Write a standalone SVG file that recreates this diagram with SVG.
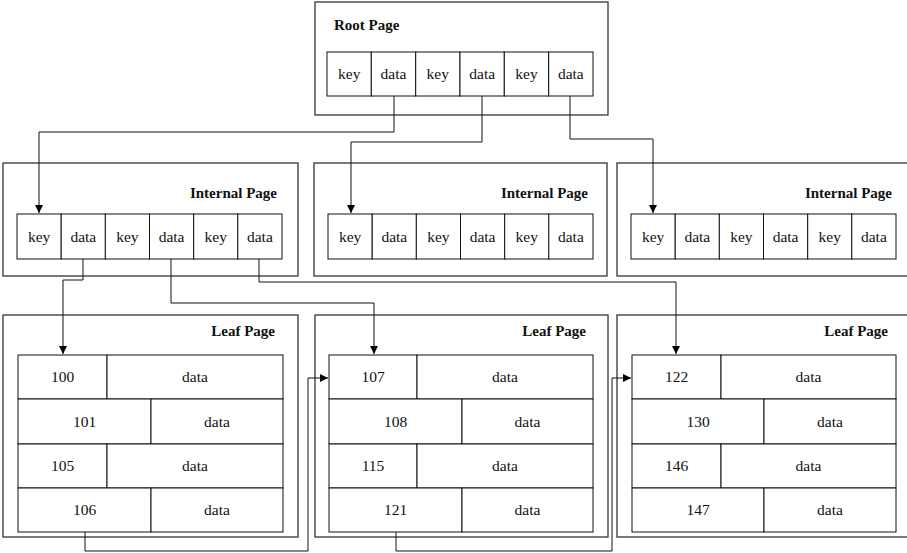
<svg xmlns="http://www.w3.org/2000/svg" width="907" height="553" viewBox="0 0 907 553" font-family="Liberation Serif, serif">
<defs>
<marker id="arr" markerUnits="userSpaceOnUse" markerWidth="9" markerHeight="8" refX="8" refY="4" orient="auto">
<path d="M0,0 L8,4 L0,8 Z" fill="#000"/>
</marker>
<style>
.page{fill:#fff;stroke:#444;stroke-width:1.4}
.cell{fill:#fff;stroke:#111;stroke-width:1}
.t{font-size:15.5px;fill:#111;text-anchor:middle}
.title{font-size:15px;font-weight:bold;fill:#111}
.end{text-anchor:end}
.conn{fill:none;stroke:#111;stroke-width:1}
</style>
</defs>
<rect width="907" height="553" fill="#fff"/>

<g id="root" font-family="Liberation Serif, serif">
<rect class="page" x="315" y="2" width="293" height="113"/>
<text class="title" x="334" y="30">Root Page</text>
<rect class="cell" x="327" y="52" width="44.3" height="44"/>
<rect class="cell" x="371.3" y="52" width="44.3" height="44"/>
<rect class="cell" x="415.7" y="52" width="44.3" height="44"/>
<rect class="cell" x="460" y="52" width="44.3" height="44"/>
<rect class="cell" x="504.3" y="52" width="44.3" height="44"/>
<rect class="cell" x="548.7" y="52" width="44.3" height="44"/>
<text class="t" x="349.2" y="79">key</text>
<text class="t" x="393.5" y="79">data</text>
<text class="t" x="437.8" y="79">key</text>
<text class="t" x="482.2" y="79">data</text>
<text class="t" x="526.5" y="79">key</text>
<text class="t" x="570.8" y="79">data</text>
</g>

<g id="internal1" font-family="Liberation Serif, serif">
<rect class="page" x="3" y="163" width="295" height="113"/>
<text class="title end" x="277" y="198">Internal Page</text>
<rect class="cell" x="17" y="214" width="44.2" height="45"/>
<rect class="cell" x="61.2" y="214" width="44.2" height="45"/>
<rect class="cell" x="105.3" y="214" width="44.2" height="45"/>
<rect class="cell" x="149.5" y="214" width="44.2" height="45"/>
<rect class="cell" x="193.7" y="214" width="44.2" height="45"/>
<rect class="cell" x="237.8" y="214" width="44.2" height="45"/>
<text class="t" x="39.1" y="241.5">key</text>
<text class="t" x="83.3" y="241.5">data</text>
<text class="t" x="127.4" y="241.5">key</text>
<text class="t" x="171.6" y="241.5">data</text>
<text class="t" x="215.8" y="241.5">key</text>
<text class="t" x="259.9" y="241.5">data</text>
</g>

<g id="internal2" font-family="Liberation Serif, serif">
<rect class="page" x="314" y="163" width="293" height="113"/>
<text class="title end" x="588" y="198">Internal Page</text>
<rect class="cell" x="328" y="214" width="44.2" height="45"/>
<rect class="cell" x="372.2" y="214" width="44.2" height="45"/>
<rect class="cell" x="416.3" y="214" width="44.2" height="45"/>
<rect class="cell" x="460.5" y="214" width="44.2" height="45"/>
<rect class="cell" x="504.7" y="214" width="44.2" height="45"/>
<rect class="cell" x="548.8" y="214" width="44.2" height="45"/>
<text class="t" x="350.1" y="241.5">key</text>
<text class="t" x="394.3" y="241.5">data</text>
<text class="t" x="438.4" y="241.5">key</text>
<text class="t" x="482.6" y="241.5">data</text>
<text class="t" x="526.8" y="241.5">key</text>
<text class="t" x="570.9" y="241.5">data</text>
</g>

<g id="internal3" font-family="Liberation Serif, serif">
<rect class="page" x="617" y="163" width="295" height="113"/>
<text class="title end" x="892" y="198">Internal Page</text>
<rect class="cell" x="631" y="214" width="44.2" height="45"/>
<rect class="cell" x="675.2" y="214" width="44.2" height="45"/>
<rect class="cell" x="719.3" y="214" width="44.2" height="45"/>
<rect class="cell" x="763.5" y="214" width="44.2" height="45"/>
<rect class="cell" x="807.7" y="214" width="44.2" height="45"/>
<rect class="cell" x="851.8" y="214" width="44.2" height="45"/>
<text class="t" x="653.1" y="241.5">key</text>
<text class="t" x="697.3" y="241.5">data</text>
<text class="t" x="741.4" y="241.5">key</text>
<text class="t" x="785.6" y="241.5">data</text>
<text class="t" x="829.8" y="241.5">key</text>
<text class="t" x="873.9" y="241.5">data</text>
</g>

<g id="leaf1" font-family="Liberation Serif, serif">
<rect class="page" x="3" y="315" width="295" height="222"/>
<text class="title end" x="275" y="336">Leaf Page</text>
<rect class="cell" x="18" y="355" width="89" height="44"/>
<rect class="cell" x="107" y="355" width="176" height="44"/>
<rect class="cell" x="18" y="399" width="133" height="45"/>
<rect class="cell" x="151" y="399" width="132" height="45"/>
<rect class="cell" x="18" y="444" width="89" height="44"/>
<rect class="cell" x="107" y="444" width="176" height="44"/>
<rect class="cell" x="18" y="488" width="133" height="44"/>
<rect class="cell" x="151" y="488" width="132" height="44"/>
<text class="t" x="62.5" y="382">100</text>
<text class="t" x="195" y="382">data</text>
<text class="t" x="84.5" y="426.5">101</text>
<text class="t" x="217" y="426.5">data</text>
<text class="t" x="62.5" y="471">105</text>
<text class="t" x="195" y="471">data</text>
<text class="t" x="84.5" y="515">106</text>
<text class="t" x="217" y="515">data</text>
</g>

<g id="leaf2" font-family="Liberation Serif, serif">
<rect class="page" x="315" y="315" width="293" height="222"/>
<text class="title end" x="586" y="336">Leaf Page</text>
<rect class="cell" x="329" y="355" width="88" height="44"/>
<rect class="cell" x="417" y="355" width="176" height="44"/>
<rect class="cell" x="329" y="399" width="133" height="45"/>
<rect class="cell" x="462" y="399" width="131" height="45"/>
<rect class="cell" x="329" y="444" width="88" height="44"/>
<rect class="cell" x="417" y="444" width="176" height="44"/>
<rect class="cell" x="329" y="488" width="133" height="44"/>
<rect class="cell" x="462" y="488" width="131" height="44"/>
<text class="t" x="373" y="382">107</text>
<text class="t" x="505" y="382">data</text>
<text class="t" x="395.5" y="426.5">108</text>
<text class="t" x="527.5" y="426.5">data</text>
<text class="t" x="373" y="471">115</text>
<text class="t" x="505" y="471">data</text>
<text class="t" x="395.5" y="515">121</text>
<text class="t" x="527.5" y="515">data</text>
</g>

<g id="leaf3" font-family="Liberation Serif, serif">
<rect class="page" x="617" y="315" width="295" height="222"/>
<text class="title end" x="888" y="336">Leaf Page</text>
<rect class="cell" x="632" y="355" width="89" height="44"/>
<rect class="cell" x="721" y="355" width="175" height="44"/>
<rect class="cell" x="632" y="399" width="132" height="45"/>
<rect class="cell" x="764" y="399" width="132" height="45"/>
<rect class="cell" x="632" y="444" width="89" height="44"/>
<rect class="cell" x="721" y="444" width="175" height="44"/>
<rect class="cell" x="632" y="488" width="132" height="44"/>
<rect class="cell" x="764" y="488" width="132" height="44"/>
<text class="t" x="676.5" y="382">122</text>
<text class="t" x="808.5" y="382">data</text>
<text class="t" x="698" y="426.5">130</text>
<text class="t" x="830" y="426.5">data</text>
<text class="t" x="676.5" y="471">146</text>
<text class="t" x="808.5" y="471">data</text>
<text class="t" x="698" y="515">147</text>
<text class="t" x="830" y="515">data</text>
</g>

<g id="connectors">
<path class="conn" d="M394,96 V132 H39 V213" marker-end="url(#arr)"/>
<path class="conn" d="M482,96 V142 H351 V213" marker-end="url(#arr)"/>
<path class="conn" d="M570,96 V139 H653 V213" marker-end="url(#arr)"/>
<path class="conn" d="M83,259 V280 H63 V354" marker-end="url(#arr)"/>
<path class="conn" d="M171,259 V303 H374 V354" marker-end="url(#arr)"/>
<path class="conn" d="M259,259 V282 H676 V354" marker-end="url(#arr)"/>
<path class="conn" d="M85,532 V551 H308 V378 H328" marker-end="url(#arr)"/>
<path class="conn" d="M396,532 V551 H612 V378 H631" marker-end="url(#arr)"/>
</g>
</svg>
